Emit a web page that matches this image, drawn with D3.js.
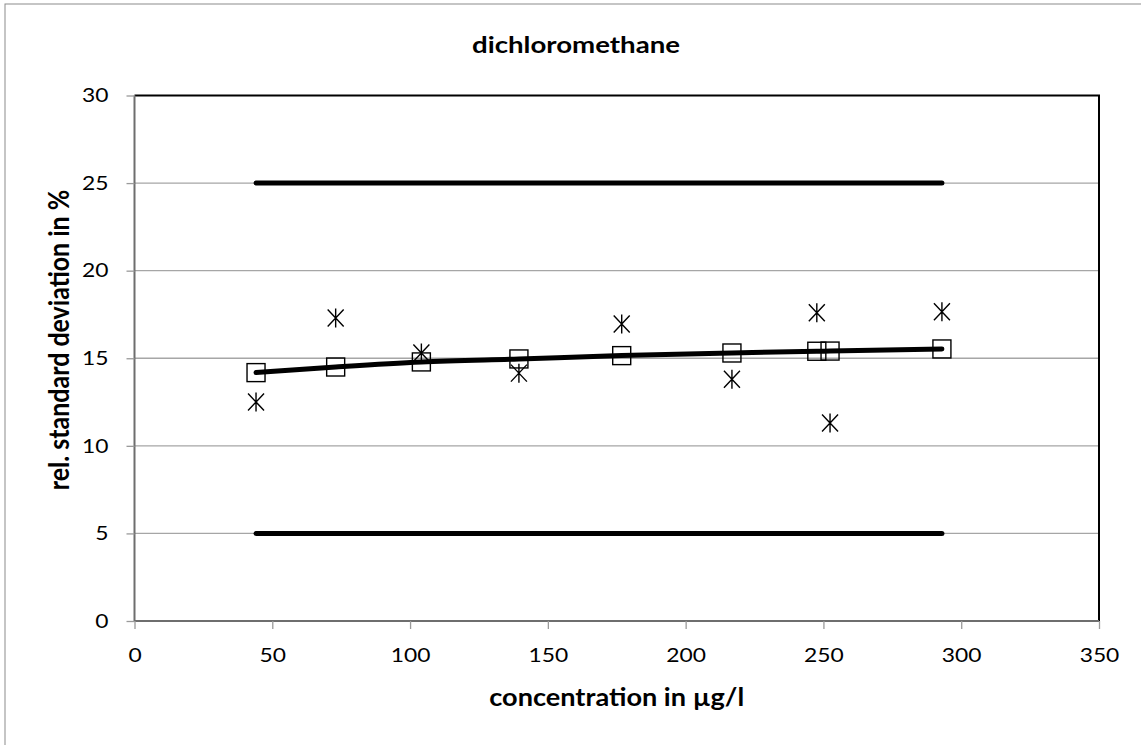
<!DOCTYPE html>
<html>
<head>
<meta charset="utf-8">
<script src="https://cdn.jsdelivr.net/npm/d3@7"></script>
<style>
  html, body { margin: 0; padding: 0; background: #fff; }
  svg { display: block; }
</style>
</head>
<body>
<div id="chart"></div>
<script>
// ---- data ----
const title = 'dichloromethane'
const xLabel = 'concentration in µg/l'
const yLabel = 'rel. standard deviation in %'
const concentrations = [44.1, 73.0, 104.1, 139.5, 176.8, 216.8, 247.6, 252.4, 293.0]
const labRsd = [12.5, 17.3, 15.3, 14.15, 16.95, 13.8, 17.6, 11.3, 17.65]
const modelRsd = [14.18, 14.5, 14.79, 14.96, 15.15, 15.3, 15.4, 15.41, 15.53]
const limits = [5, 25]
const xTicks = [0, 50, 100, 150, 200, 250, 300, 350]
const yTicks = [0, 5, 10, 15, 20, 25, 30]

const W = 1141, H = 745
const margin = { top: 95.5, right: 42, bottom: 124, left: 134.5 }
const font = 'Lato, "Open Sans", sans-serif'
const stretch = 1.17   // reference text is drawn a bit wide

// widen a text horizontally, keeping its anchor
function widen(sel, k) {
  sel.each(function () {
    const w = this.getComputedTextLength()
    this.setAttribute('textLength', w * k)
    this.setAttribute('lengthAdjust', 'spacingAndGlyphs')
  })
}

const svg = d3.select('#chart').append('svg')
  .attr('width', W).attr('height', H)

// outer chart frame (runs off the right and bottom edge)
svg.append('rect')
  .attr('x', 5).attr('y', 4).attr('width', W + 10).attr('height', H + 10)
  .attr('fill', 'none').attr('stroke', '#8c8c8c').attr('stroke-width', 1)

const x = d3.scaleLinear().domain([0, 350]).range([margin.left, W - margin.right])
const y = d3.scaleLinear().domain([0, 30]).range([H - margin.bottom, margin.top])

// gridlines
svg.append('g').selectAll('line').data(yTicks.filter(d => d > 0 && d < 30))
  .join('line')
  .attr('x1', x(0)).attr('x2', x(350))
  .attr('y1', d => y(d)).attr('y2', d => y(d))
  .attr('stroke', '#a6a6a6').attr('stroke-width', 1.3)

// plot border: top + right black
svg.append('path')
  .attr('d', `M${x(0)},${y(30)}H${x(350)}V${y(0)}`)
  .attr('fill', 'none').attr('stroke', '#000').attr('stroke-width', 2)

// axes
const yAxis = svg.append('g')
  .attr('transform', `translate(${x(0)},0)`)
  .call(d3.axisLeft(y).tickValues(yTicks).tickSize(8).tickPadding(18))
const xAxis = svg.append('g')
  .attr('transform', `translate(0,${y(0)})`)
  .call(d3.axisBottom(x).tickValues(xTicks).tickSize(8).tickPadding(19))

;[yAxis, xAxis].forEach(g => {
  g.select('.domain').attr('stroke', '#6e6e6e').attr('stroke-width', 2)
  g.selectAll('.tick line').attr('stroke', '#9a9a9a').attr('stroke-width', 1.3)
  g.selectAll('.tick text')
    .attr('fill', '#000').attr('font-size', '19.5px').attr('font-family', font)
    .call(widen, stretch)
})
xAxis.select('.domain').attr('d', `M${x(0)},0H${x(350)}`)
yAxis.select('.domain').attr('d', `M0,${y(0)}V${y(30)}`)

// limit lines
svg.append('g').selectAll('line').data(limits)
  .join('line')
  .attr('x1', x(d3.min(concentrations))).attr('x2', x(d3.max(concentrations)))
  .attr('y1', d => y(d)).attr('y2', d => y(d))
  .attr('stroke', '#000').attr('stroke-width', 5).attr('stroke-linecap', 'round')

// square markers (model)
const modelPts = concentrations.map((c, i) => [c, modelRsd[i]])
svg.append('g').selectAll('rect').data(modelPts)
  .join('rect')
  .attr('x', d => x(d[0]) - 9).attr('y', d => y(d[1]) - 9)
  .attr('width', 18).attr('height', 18)
  .attr('fill', 'none').attr('stroke', '#000').attr('stroke-width', 1.4)

// trend line through the model values
svg.append('path')
  .datum(modelPts)
  .attr('d', d3.line().x(d => x(d[0])).y(d => y(d[1])).curve(d3.curveMonotoneX))
  .attr('fill', 'none').attr('stroke', '#000').attr('stroke-width', 5)
  .attr('stroke-linecap', 'round')

// asterisk markers (labs)
const star = 'M0,-9.5V9.5M-8,-8.5L8,8.5M-8,8.5L8,-8.5'
svg.append('g').selectAll('path').data(concentrations.map((c, i) => [c, labRsd[i]]))
  .join('path')
  .attr('transform', d => `translate(${x(d[0])},${y(d[1])})`)
  .attr('d', star)
  .attr('fill', 'none').attr('stroke', '#000').attr('stroke-width', 1.4)

// titles
svg.append('text')
  .attr('x', 576).attr('y', 53)
  .attr('text-anchor', 'middle')
  .attr('font-family', font).attr('font-weight', 'bold').attr('font-size', '23px')
  .text(title)
  .attr('textLength', 208).attr('lengthAdjust', 'spacingAndGlyphs')

svg.append('text')
  .attr('x', (x(0) + x(350)) / 2).attr('y', 706)
  .attr('text-anchor', 'middle')
  .attr('font-family', font).attr('font-weight', 'bold').attr('font-size', '24px')
  .text(xLabel)
  .attr('textLength', 255).attr('lengthAdjust', 'spacingAndGlyphs')

svg.append('text')
  .attr('transform', `translate(69,340) scale(${stretch},1) rotate(-90)`)
  .attr('text-anchor', 'middle')
  .attr('font-family', font).attr('font-weight', 'bold').attr('font-size', '25px')
  .text(yLabel)
</script>
</body>
</html>
